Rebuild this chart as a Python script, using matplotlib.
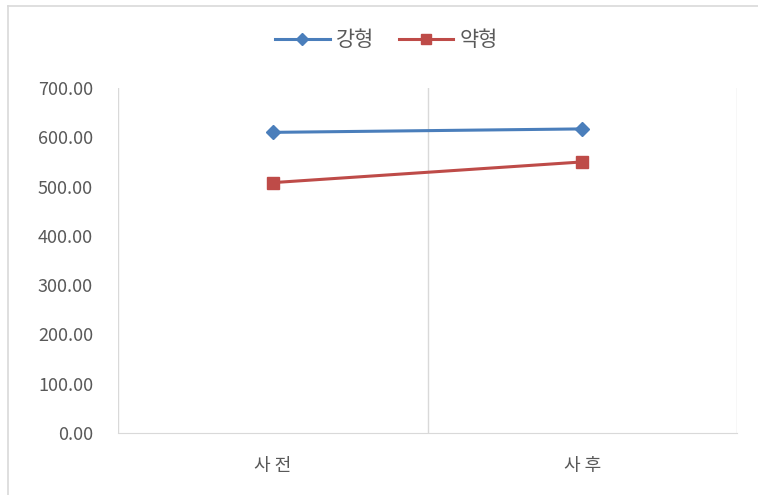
import matplotlib.pyplot as plt
from matplotlib.lines import Line2D

plt.rcParams['font.family'] = ['Noto Sans CJK KR', 'DejaVu Sans']

# 데이터
categories = ['사 전', '사 후']
strong = [610, 617]
weak = [508, 550]
series_names = ['강형', '약형']
y_ticks = [0, 100, 200, 300, 400, 500, 600, 700]

blue = '#4A7EBB'
red = '#BE4B48'
grid_c = '#D9D9D9'
text_c = '#595959'

fig = plt.figure(figsize=(7.58, 4.95), dpi=100)
ax = fig.add_axes([118 / 758, 1 - 433 / 495, (737 - 118) / 758, (433 - 88) / 495])

x = list(range(len(categories)))
ax.plot(x, strong, color=blue, lw=2.2, marker='D', ms=7.5, label=series_names[0], zorder=3)
ax.plot(x, weak, color=red, lw=2.2, marker='s', ms=8.5, label=series_names[1], zorder=3)

ax.set_xlim(-0.5, len(categories) - 0.5)
ax.set_ylim(0, 700)
ax.set_yticks(y_ticks)
ax.set_yticklabels([f'{v:.2f}' for v in y_ticks])
ax.set_xticks(x)
ax.set_xticklabels(categories)

# 카테고리 경계 세로선
for b in [i - 0.5 for i in range(len(categories) + 1)]:
    ax.axvline(b, color=grid_c, lw=1, zorder=1)

for s in ['top', 'right', 'left']:
    ax.spines[s].set_visible(False)
ax.spines['bottom'].set_color(grid_c)
ax.tick_params(axis='both', length=0, colors=text_c, labelsize=13)
ax.tick_params(axis='y', pad=18)
ax.tick_params(axis='x', pad=17)

handles = [
    Line2D([], [], color=blue, lw=2.2, marker='D', ms=6.5),
    Line2D([], [], color=red, lw=2.2, marker='s', ms=7.5),
]
fig.legend(handles, series_names, loc='center', bbox_to_anchor=(0.51, 1 - 40 / 495),
           ncol=2, frameon=False, fontsize=15, handlelength=2.6, columnspacing=1.2,
           handletextpad=0.3, labelcolor=text_c)

# 바깥 테두리
fig.add_artist(Line2D([8 / 758, 1], [1 - 6 / 495, 1 - 6 / 495], color=grid_c, lw=1.2,
                      transform=fig.transFigure))
fig.add_artist(Line2D([8 / 758, 8 / 758], [0, 1 - 6 / 495], color=grid_c, lw=1.2,
                      transform=fig.transFigure))

fig.savefig('out.png', dpi=100)
